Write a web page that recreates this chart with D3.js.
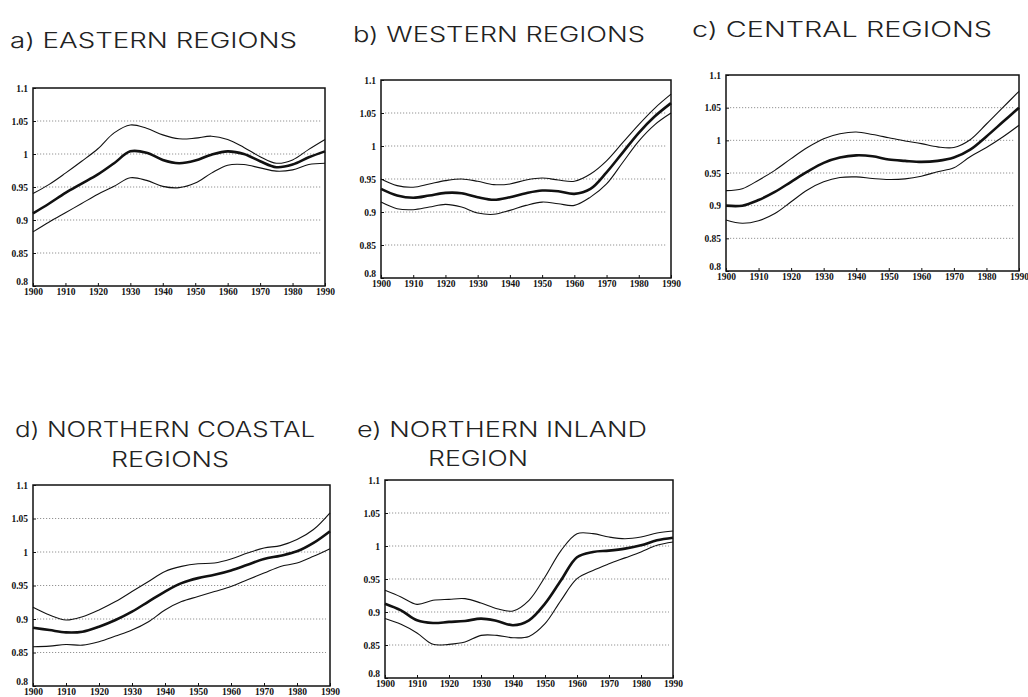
<!DOCTYPE html>
<html>
<head>
<meta charset="utf-8">
<script src="https://cdn.jsdelivr.net/npm/d3@7"></script>
<style>
  body { margin: 0; background: #fff; }
</style>
</head>
<body>
<svg id="chart" width="1028" height="697"></svg>
<script>
var years = [1900,1905,1910,1915,1920,1925,1930,1935,1940,1945,1950,1955,1960,1965,1970,1975,1980,1985,1990];

var xTicks = [1900,1910,1920,1930,1940,1950,1960,1970,1980,1990];
var yTicks = [0.8,0.85,0.9,0.95,1,1.05,1.1];
var yTickLabels = ["0.8","0.85","0.9","0.95","1","1.05","1.1"];
var gridVals = [0.85,0.9,0.95,1,1.05];

//a) eastern
var eastMid = [0.910,0.925,0.941,0.955,0.969,0.986,1.004,1.002,0.991,0.986,0.990,0.999,1.004,1.000,0.989,0.980,0.984,0.995,1.004];
var eastUp  = [0.940,0.954,0.971,0.989,1.008,1.032,1.044,1.039,1.029,1.023,1.024,1.027,1.022,1.010,0.996,0.986,0.991,1.007,1.022];
var eastLow = [0.882,0.897,0.911,0.925,0.939,0.951,0.964,0.960,0.951,0.949,0.956,0.971,0.983,0.984,0.979,0.974,0.976,0.984,0.986];

//b) western
var westMid = [0.935,0.925,0.9215,0.925,0.929,0.9285,0.9225,0.9185,0.9225,0.9285,0.9325,0.9315,0.9275,0.935,0.960,0.990,1.020,1.045,1.065];
var westUp  = [0.950,0.940,0.9375,0.9425,0.9475,0.950,0.9465,0.9415,0.9425,0.9485,0.9515,0.9485,0.9465,0.9575,0.9775,1.005,1.0325,1.0575,1.0785];
var westLow = [0.915,0.905,0.9035,0.9075,0.9115,0.9075,0.8985,0.8965,0.9025,0.910,0.915,0.9125,0.910,0.9225,0.9425,0.975,1.0075,1.0325,1.050];

//c) central
var centMid = [0.900,0.900,0.9086,0.921,0.9365,0.952,0.9655,0.9736,0.977,0.9756,0.9706,0.9685,0.967,0.9685,0.9736,0.9858,1.006,1.028,1.050];
var centUp  = [0.923,0.926,0.939,0.954,0.972,0.989,1.0025,1.010,1.0127,1.009,1.004,0.999,0.995,0.990,0.989,1.001,1.025,1.050,1.075];
var centLow = [0.878,0.873,0.877,0.888,0.906,0.924,0.9365,0.943,0.944,0.9416,0.940,0.941,0.945,0.952,0.958,0.975,0.989,1.005,1.023];

//d) northern coastal
var coastMid = [0.887,0.8835,0.880,0.881,0.8885,0.8985,0.911,0.926,0.941,0.9535,0.961,0.966,0.9725,0.981,0.9895,0.9945,1.001,1.0135,1.031];
var coastUp  = [0.9175,0.906,0.8985,0.9035,0.9135,0.926,0.941,0.956,0.971,0.9785,0.9825,0.9835,0.9895,0.9985,1.006,1.0095,1.0185,1.0335,1.0585];
var coastLow = [0.8585,0.8595,0.862,0.861,0.866,0.8745,0.8835,0.896,0.9135,0.926,0.9335,0.941,0.9485,0.9585,0.9685,0.9785,0.9835,0.9935,1.005];

//e) northern inland
var inlandMid = [0.9126,0.9025,0.8874,0.8833,0.885,0.8864,0.890,0.8864,0.880,0.8874,0.9126,0.948,0.983,0.991,0.993,0.996,1.001,1.0086,1.0126];
var inlandUp  = [0.9328,0.9227,0.9116,0.9177,0.9192,0.9202,0.9136,0.905,0.9015,0.9177,0.953,0.993,1.0187,1.0187,1.0136,1.011,1.0136,1.0197,1.0227];
var inlandLow = [0.890,0.8813,0.8682,0.851,0.851,0.8545,0.8646,0.8646,0.861,0.863,0.8823,0.9177,0.9505,0.963,0.973,0.982,0.991,1.001,1.006];

var titles = [
    ["a) EASTERN REGIONS"],
    ["b) WESTERN REGIONS"],
    ["c) CENTRAL REGIONS"],
    ["d) NORTHERN COASTAL", "REGIONS"],
    ["e) NORTHERN INLAND", "REGION"]
];

//panel placement on the page
var panels = [
    {title: titles[0], mid: eastMid,   up: eastUp,   low: eastLow,   x0: 33,  x1: 325,  y0: 88, y1: 286,
     tx: [10], ty: [48], tw: [287]},
    {title: titles[1], mid: westMid,   up: westUp,   low: westLow,   x0: 381, x1: 671,  y0: 80, y1: 278,
     tx: [353], ty: [42], tw: [292]},
    {title: titles[2], mid: centMid,   up: centUp,   low: centLow,   x0: 726, x1: 1019, y0: 75, y1: 271,
     tx: [692], ty: [37], tw: [300]},
    {title: titles[3], mid: coastMid,  up: coastUp,  low: coastLow,  x0: 33,  x1: 330,  y0: 485, y1: 686,
     tx: [15, 111], ty: [437, 467], tw: [300, 118]},
    {title: titles[4], mid: inlandMid, up: inlandUp, low: inlandLow, x0: 385, x1: 673,  y0: 480, y1: 678,
     tx: [357, 428], ty: [437, 466], tw: [290, 100]}
];

var svg = d3.select("#chart");

panels.forEach(function(p) {
    var x = d3.scaleLinear().domain([1900, 1990]).range([p.x0, p.x1]);
    var y = d3.scaleLinear().domain([0.8, 1.1]).range([p.y1, p.y0]);

    var g = svg.append("g");

    //titles: thin, wide lettering
    p.title.forEach(function(t, i) {
        g.append("text")
            .attr("x", p.tx[i])
            .attr("y", p.ty[i])
            .attr("textLength", p.tw[i])
            .attr("lengthAdjust", "spacingAndGlyphs")
            .style("font-family", "Inter, 'Liberation Sans', sans-serif")
            .style("font-weight", 300)
            .style("font-size", "21px")
            .style("fill", "#222")
            .text(t);
    });

    //dotted gridlines
    g.selectAll("line.grid")
        .data(gridVals)
        .enter()
        .append("line")
        .attr("class", "grid")
        .attr("x1", p.x0 + 4)
        .attr("x2", p.x1 - 4)
        .attr("y1", function(d) { return y(d); })
        .attr("y2", function(d) { return y(d); })
        .attr("stroke", "#666")
        .attr("stroke-width", 0.7)
        .attr("stroke-dasharray", "1.2,1.8");

    //axes
    var xAxis = d3.axisBottom(x)
        .tickValues(xTicks)
        .tickFormat(d3.format("d"))
        .tickSizeInner(-3)
        .tickSizeOuter(0)
        .tickPadding(2);

    var yAxis = d3.axisLeft(y)
        .tickValues(yTicks)
        .tickFormat(function(d, i) { return yTickLabels[i]; })
        .tickSizeInner(-3)
        .tickSizeOuter(0)
        .tickPadding(5);

    var gx = g.append("g")
        .attr("transform", "translate(0," + p.y1 + ")")
        .call(xAxis);

    var gy = g.append("g")
        .attr("transform", "translate(" + p.x0 + ",0)")
        .call(yAxis);

    //bottom label sits just above the corner, as in the scan
    gy.selectAll(".tick text")
        .filter(function(d) { return d === 0.8; })
        .attr("dy", "-0.2em");

    [gx, gy].forEach(function(a) {
        a.select(".domain").remove();
        a.selectAll("line").attr("stroke", "#111").attr("stroke-width", 1);
        a.selectAll("text")
            .style("font-family", "'Liberation Serif', 'Times New Roman', serif")
            .style("font-weight", "bold")
            .style("font-size", "9.5px")
            .style("fill", "#111");
    });

    //frame
    g.append("rect")
        .attr("x", p.x0)
        .attr("y", p.y0)
        .attr("width", p.x1 - p.x0)
        .attr("height", p.y1 - p.y0)
        .attr("fill", "none")
        .attr("stroke", "#111")
        .attr("stroke-width", 1.5);

    var line = d3.line()
        .x(function(d, i) { return x(years[i]); })
        .y(function(d) { return y(d); })
        .curve(d3.curveCatmullRom.alpha(0.5));

    //confidence band lines
    [p.up, p.low].forEach(function(s) {
        g.append("path")
            .datum(s)
            .attr("d", line)
            .attr("fill", "none")
            .attr("stroke", "#111")
            .attr("stroke-width", 1.1);
    });

    //estimate
    g.append("path")
        .datum(p.mid)
        .attr("d", line)
        .attr("fill", "none")
        .attr("stroke", "#111")
        .attr("stroke-width", 2.6);
});
</script>
</body>
</html>
